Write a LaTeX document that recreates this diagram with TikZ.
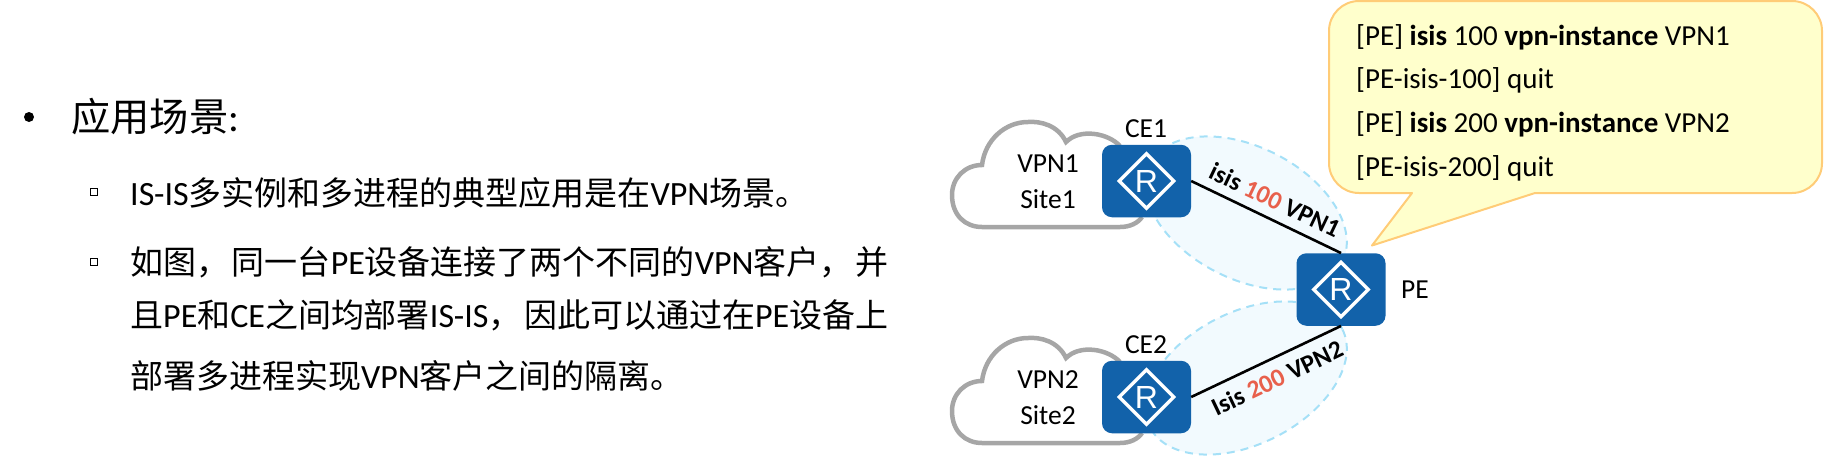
\documentclass[tikz,border=0pt]{standalone}
\usepackage{fontspec}
\setmainfont{Carlito}
\newfontfamily\cjk{Noto Sans CJK SC}[Scale=0.97]
\newfontfamily\arialf{Liberation Sans}
\newcommand{\cn}[1]{{\cjk #1}}
\usetikzlibrary{shapes.geometric}
\definecolor{routerblue}{HTML}{1262AA}
\definecolor{cloudgray}{HTML}{A6A6A6}
\definecolor{zonefill}{HTML}{F2FAFE}
\definecolor{zoneline}{HTML}{A5E0F7}
\definecolor{calloutfill}{HTML}{FFFFCC}
\definecolor{calloutline}{HTML}{FFCC77}
\definecolor{numred}{HTML}{E8604C}
\tikzset{
  x=1pt,y=1pt,
  router/.style={draw=none,fill=routerblue,rounded corners=10pt,minimum width=89pt,minimum height=72.5pt,inner sep=0pt},
  rmark/.style={diamond,draw=white,line width=3.4pt,minimum width=56pt,minimum height=56pt,inner sep=0pt,text=white,font=\arialf\fontsize{32}{32}\selectfont},
  cloudline/.style={draw=cloudgray,fill=white,line width=4.5pt},
  zone/.style={ellipse,draw=zoneline,fill=zonefill,line width=2pt,dash pattern=on 8pt off 6pt,minimum width=216pt,minimum height=132pt,inner sep=0pt},
  link/.style={draw=black,line width=2.6pt},
  devlabel/.style={inner sep=0pt,font=\fontsize{27.5}{27.5}\selectfont},
  linklabel/.style={inner sep=0pt,font=\bfseries\fontsize{25.5}{25.5}\selectfont},
  cmd/.style={inner sep=0pt,anchor=base west,font=\fontsize{29}{29}\selectfont},
  bodytext/.style={inner sep=0pt,anchor=base west,font=\fontsize{34}{34}\selectfont},
  headtext/.style={inner sep=0pt,anchor=base west,font=\fontsize{40.5}{40.5}\selectfont},
  sqbullet/.style={draw=black,line width=1pt,minimum size=7pt,inner sep=0pt},
  dotbullet/.style={circle,fill=black,minimum size=10pt,inner sep=0pt},
}
\newcommand{\cloudpath}[1]{%
  \begin{scope}[yshift=#1pt]
  \draw[cloudline] (1120,-146) .. controls (1108,-133) and (1080,-128) .. (1066,-142)
    .. controls (1058,-125) and (1040,-121) .. (1028,-122)
    .. controls (1005,-122) and (985,-140) .. (982,-165)
    .. controls (965,-165) and (952,-178) .. (952,-195)
    .. controls (952,-215) and (965,-227) .. (982,-227)
    -- (1120,-227) .. controls (1130,-227) and (1138,-223) .. (1142,-217);
  \end{scope}}
\begin{document}
\begin{tikzpicture}
\useasboundingbox (0,0) rectangle (1827,-469);
% left text
\node[dotbullet] (b0) at (29,-117) {};
\node[headtext] (h0) at (71,-131) {\cn{应用场景}:};
\node[sqbullet] (b1) at (94,-192) {};
\node[bodytext] (t1) at (130,-205) {IS-IS\cn{多实例和多进程的典型应用是在}VPN\cn{场景。}};
\node[sqbullet] (b2) at (94,-262) {};
\node[bodytext] (t2) at (130,-274) {\hbox to 758pt{\cn{如图，}\hfil\cn{同一台}PE\cn{设备连接了两个不同的}VPN\cn{客户，}\hfil\cn{并}}};
\node[bodytext] (t3) at (130,-327) {\hbox to 758pt{\cn{且}PE\cn{和}CE\cn{之间均部署}IS-IS\cn{，}\hfil\cn{因此可以通过在}PE\cn{设备上}}};
\node[bodytext] (t4) at (130,-388) {\cn{部署多进程实现}VPN\cn{客户之间的隔离。}};
% zones
\node[zone,rotate=-27] (z1) at (1246,-213) {};
\node[zone,rotate=27] (z2) at (1246,-378) {};
% clouds
\cloudpath{0}
\cloudpath{-216}
% routers
\node[router] (CE1) at (1146.5,-181) {};
\node[router] (CE2) at (1146.5,-397) {};
\node[router] (PE) at (1341,-289.5) {};
\node[rmark] (r1) at (CE1) {R};
\node[rmark] (r2) at (CE2) {R};
\node[rmark] (r3) at (PE) {R};
% links
\draw[link] (CE1.east) -- (PE.north);
\draw[link] (CE2.east) -- (PE.south);
% labels
\node[devlabel] (lce1) at (1146,-129) {CE1};
\node[devlabel] (lce2) at (1146,-345) {CE2};
\node[devlabel] (lpe) at (1415,-290) {PE};
\node[devlabel] (v1) at (1048,-164) {VPN1};
\node[devlabel] (s1) at (1048,-199) {Site1};
\node[devlabel] (v2) at (1048,-380) {VPN2};
\node[devlabel] (s2) at (1048,-415) {Site2};
\node[linklabel,rotate=-25.5] (l1) at (1275,-200) {isis \textcolor{numred}{100} VPN1};
\node[linklabel,rotate=25.5] (l2) at (1277,-378) {Isis \textcolor{numred}{200} VPN2};
% callout
\draw[draw=calloutline,fill=calloutfill,line width=2pt,line join=round]
  (1359,-1) -- (1792,-1) arc[start angle=90,end angle=0,radius=30]
  -- (1822,-163) arc[start angle=0,end angle=-90,radius=30]
  -- (1535,-193) -- (1372,-245.5) -- (1412,-193) -- (1359,-193)
  arc[start angle=270,end angle=180,radius=30]
  -- (1329,-31) arc[start angle=180,end angle=90,radius=30] -- cycle;
\node[cmd] (c1) at (1356,-45) {[PE] \textbf{isis} 100 \textbf{vpn-instance} VPN1};
\node[cmd] (c2) at (1356,-88.5) {[PE-isis-100] quit};
\node[cmd] (c3) at (1356,-132) {[PE] \textbf{isis} 200 \textbf{vpn-instance} VPN2};
\node[cmd] (c4) at (1356,-176) {[PE-isis-200] quit};
\end{tikzpicture}
\end{document}
